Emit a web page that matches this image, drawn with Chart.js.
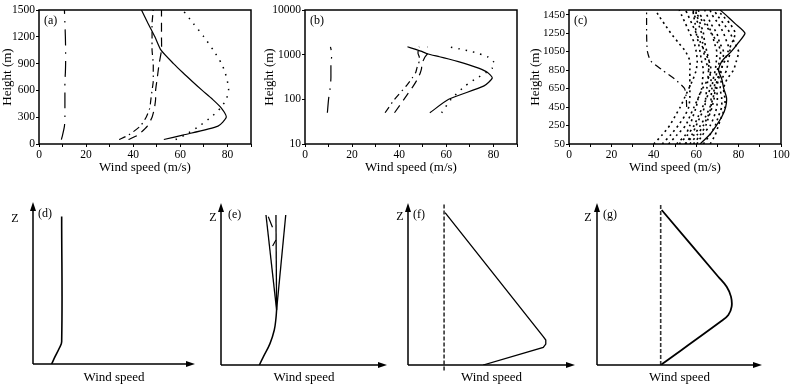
<!DOCTYPE html>
<html>
<head>
<meta charset="utf-8">
<script src="https://cdn.jsdelivr.net/npm/chart.js@4.4.1/dist/chart.umd.min.js"></script>
<style>
  body { margin: 0; background: #fff; width: 795px; height: 392px; position: relative; overflow: hidden; }
  canvas { position: absolute; }
</style>
</head>
<body>
<canvas id="pa" width="256" height="175" style="left:0;top:0"></canvas>
<canvas id="pb" width="259" height="175" style="left:262px;top:0"></canvas>
<canvas id="pc" width="267" height="175" style="left:528px;top:0"></canvas>
<canvas id="pd" width="200" height="200" style="left:0;top:190px"></canvas>
<canvas id="pe" width="195" height="200" style="left:200px;top:190px"></canvas>
<canvas id="pf" width="190" height="200" style="left:393px;top:190px"></canvas>
<canvas id="pg" width="215" height="200" style="left:580px;top:190px"></canvas>
<script>
// ---- (a) / (b): observed profiles, wind speed (m/s) at each height (m) ----
const heightsAB  = [50, 100, 200, 300, 400, 500, 600, 700, 800, 900, 1050, 1200, 1350, 1500];
const solidAB    = [53, 61, 76, 79.5, 77.5, 73.7, 69.3, 65.1, 61, 57.1, 51.8, 49.2, 46.3, 43.5];
const dottedAB   = [58, 62, 68, 73, 77, 79.5, 80.5, 80, 79, 77.5, 74, 70, 65.5, 61];
const dashedAB   = [38, 42, 46, 48, 49, 49.5, 49.5, 50, 50.5, 51, 52, 52, 52, 52];
const dashDotAB  = [34, 38, 43, 45.5, 47, 47.5, 48, 48.5, 48.5, 48.5, 48, 48, 48, 48.5];
const dash2DotAB = [9.5, 10, 10.8, 11, 11, 11, 11, 11, 11.2, 11.3, 11.3, 11.2, 11, 10.8];

// ---- (c): individual profiles ----
const heightsC  = [50, 150, 250, 350, 450, 550, 650, 750, 850, 950, 1050, 1150, 1250, 1350, 1450, 1500];
const solidC    = [61.8, 66.3, 69.5, 72.2, 73.9, 74.3, 73, 72.1, 70.5, 72.2, 76.5, 80, 83, 78.5, 73.8, 71.3];
const dashDotC  = [null, null, null, null, 55.5, 55.3, 54.5, 50, 44, 38.5, 37, 36.7, 36.6, 36.6, 36.6, 36.6];
const dottedC = [
  [44, 48, 51.5, 54.5, 56.5, 57, 57, 57, 57, 57, 55, 51.5, 48, 45, 42, 41],
  [40, 44, 47.5, 50, 52.5, 54.5, 56.5, 58.5, 60, 60.5, 60, 59, 57, 55, 53, 52],
  [50.8, 55, 57, 58.5, 60, 61, 62.6, 63, 63.4, 62.5, 61.8, 61, 60, 59.5, 58.7, 58.5],
  [54.7, 58, 60, 62, 64, 64.5, 65, 65.5, 65.8, 66, 65, 64, 63.4, 62, 60, 60],
  [57, 60.5, 63.4, 65.5, 67, 67, 67.4, 68, 69, 69.5, 69.7, 68.5, 67.4, 65, 61.8, 61],
  [60.3, 63, 66.6, 68.5, 69.7, 70, 69.7, 70.5, 72, 72.5, 72.9, 71, 69.7, 67, 65, 64],
  [63.4, 66.5, 69, 70.5, 72, 72, 71.3, 72, 74.4, 75, 76, 74.5, 72.9, 70.5, 67.4, 66.5],
  [66.6, 69, 70.5, 72, 73.6, 73.5, 72.9, 74.5, 77.6, 79, 80, 78, 76, 73, 69.7, 68.5],
  [58.7, 62, 64.5, 66, 67.5, 68.5, 69, 70, 71.5, 73.5, 75, 77, 78.4, 76, 72, 70],
  [47, 51, 55, 57, 59, 61, 63, 65.5, 67, 66, 64, 62, 60, 58, 56, 55],
  [52, 56, 59, 61, 63, 65, 66.5, 67, 66, 64.5, 63.5, 63, 62.5, 61, 59, 58.5],
  [55, 59, 62, 64.5, 66.5, 68, 68.5, 69, 70, 71, 71.5, 70, 67, 64, 60.5, 60]
];

// axis ticks
const xTicksAB = [0, 10, 20, 30, 40, 50, 60, 70, 80, 90];
const xTicksC  = [0, 10, 20, 30, 40, 50, 60, 70, 80, 90, 100];
const yTicksA  = [0, 300, 600, 900, 1200, 1500];
const yTicksB  = [10, 100, 1000, 10000];
const yTicksC  = [50, 250, 450, 650, 850, 1050, 1250, 1450];

// ---- (d)-(g): schematic profiles (arbitrary units 0-100) ----
const dX = [11.5, 13.6, 16.2, 17.7, 17.7];
const dZ = [0, 4.5, 9.7, 13.8, 91];
const eLowX = [23.1, 25.5, 29.5, 32.1, 33.1, 33.5];
const eLowZ = [0, 5, 13.2, 21.6, 28.8, 34];
const eBranchX = [[33.5, 27.1], [33.5, 33.1], [33.5, 39]];
const eBranchZ = [34, 92.6];
const eBrokenX = [31.1, 33.1, null, 31, 28.5];
const eBrokenZ = [73.5, 77.2, null, 85, 91.5];
const fX = [22.2, 81, 82.5, 82.5, 81, 45];
const fZ = [94, 17.5, 15.4, 12.9, 10.9, 0];
const fRefX = [21.6, 21.6];
const fRefZ = [99, -4.5];
const gX = [39.2, 73.5, 78.6, 81.2, 81.6, 79.6, 75.6, 38.6];
const gZ = [95.7, 54.5, 48.3, 42.2, 36, 30.9, 27.3, 0];
const gRefX = [38.6, 38.6];
const gRefZ = [0, 100];

Chart.defaults.font.family = '"Liberation Serif", "DejaVu Serif", serif';
Chart.defaults.color = '#000';

const pts = (xs, ys) => xs.map((x, i) => ({ x, y: ys[i] }));
const line = (xs, ys, dash, w, extra) => Object.assign({
  data: pts(xs, ys), showLine: true, borderColor: '#000', borderWidth: w,
  borderDash: dash, pointRadius: 0, tension: 0.2, fill: false
}, extra || {});

// frame, arrows and panel labels
const panel = {
  id: 'panel',
  afterDraw(chart, args, o) {
    const { ctx, chartArea: a } = chart;
    ctx.save();
    ctx.strokeStyle = '#000';
    ctx.fillStyle = '#000';
    ctx.setLineDash([]);
    if (o.box) {
      ctx.lineWidth = 1.5;
      ctx.strokeRect(a.left, a.top, a.right - a.left, a.bottom - a.top);
    }
    if (o.arrows) {
      ctx.lineWidth = 1.5;
      ctx.beginPath();
      ctx.moveTo(a.left, a.bottom); ctx.lineTo(a.left, a.top + 4);
      ctx.moveTo(a.left, a.bottom); ctx.lineTo(a.right - 4, a.bottom);
      ctx.stroke();
      ctx.beginPath();
      ctx.moveTo(a.left, a.top); ctx.lineTo(a.left - 3, a.top + 9); ctx.lineTo(a.left + 3, a.top + 9);
      ctx.closePath(); ctx.fill();
      ctx.beginPath();
      ctx.moveTo(a.right, a.bottom); ctx.lineTo(a.right - 9, a.bottom - 3); ctx.lineTo(a.right - 9, a.bottom + 3);
      ctx.closePath(); ctx.fill();
    }
    ctx.font = '12px "Liberation Serif"';
    ctx.textBaseline = 'middle';
    ctx.textAlign = 'left';
    ctx.fillText(o.tag, a.left + o.tagDx, a.top + o.tagDy);
    if (o.z) {
      ctx.textAlign = 'center';
      ctx.fillText('Z', a.left + o.z[0], a.top + o.z[1]);
    }
    ctx.restore();
  }
};

function profileChart(id, datasets, c) {
  return new Chart(document.getElementById(id), {
    type: 'scatter',
    data: { datasets },
    options: {
      responsive: false, animation: false, events: [],
      layout: { padding: c.pad },
      plugins: {
        legend: { display: false }, tooltip: { enabled: false },
        panel: { box: true, tag: c.tag, tagDx: 5, tagDy: 11 }
      },
      scales: {
        x: {
          type: 'linear', min: 0, max: c.xMax,
          afterBuildTicks: s => { s.ticks = c.xTicks.map(value => ({ value })); },
          afterFit: s => { s.height = 31; },
          ticks: { autoSkip: false, maxRotation: 0, padding: 1, font: { size: 11.5 },
                   callback: v => (v % 20 === 0 ? v : '') },
          grid: { drawOnChartArea: false, tickLength: 3, color: '#000' },
          border: { display: false },
          title: { display: true, text: 'Wind speed (m/s)', font: { size: 13 }, padding: { top: 0, bottom: 0 } }
        },
        y: {
          type: c.yType, min: c.yMin, max: c.yMax,
          afterBuildTicks: s => { s.ticks = c.yTicks.map(value => ({ value })); },
          afterFit: s => { s.width = c.yW; },
          ticks: { autoSkip: false, padding: 1, font: { size: c.yFont }, callback: v => String(v) },
          grid: { drawOnChartArea: false, tickLength: 3, color: '#000' },
          border: { display: false },
          title: { display: true, text: 'Height (m)', font: { size: 13 }, padding: { top: 0, bottom: 0 } }
        }
      }
    },
    plugins: [panel]
  });
}

function abSets() {
  return [
    line(dash2DotAB, heightsAB, [16, 7, 1.5, 7], 1.2),
    line(dashDotAB, heightsAB, [7, 4, 1.5, 4], 1.2),
    line(dashedAB, heightsAB, [9, 6], 1.2),
    line(dottedAB, heightsAB, [1.5, 6], 1.5),
    line(solidAB, heightsAB, [], 1.2)
  ];
}

profileChart('pa', abSets(), {
  tag: '(a)', pad: { top: 10, right: 5, left: 0, bottom: 0 }, xMax: 90, xTicks: xTicksAB,
  yType: 'linear', yMin: 0, yMax: 1500, yTicks: yTicksA, yW: 39, yFont: 11.5
});
profileChart('pb', abSets(), {
  tag: '(b)', pad: { top: 10, right: 4, left: 0, bottom: 0 }, xMax: 90, xTicks: xTicksAB,
  yType: 'logarithmic', yMin: 10, yMax: 10000, yTicks: yTicksB, yW: 43, yFont: 11.5
});
profileChart('pc', [
  ...dottedC.map(xs => line(xs, heightsC, [2, 3.5], 1.6)),
  line(dashDotC, heightsC, [7, 4, 1.5, 4], 1.2),
  line(solidC, heightsC, [], 1.3)
], {
  tag: '(c)', pad: { top: 10, right: 14, left: 0, bottom: 0 }, xMax: 100, xTicks: xTicksC,
  yType: 'linear', yMin: 50, yMax: 1500, yTicks: yTicksC, yW: 41, yFont: 11
});

function sketchChart(id, datasets, c) {
  return new Chart(document.getElementById(id), {
    type: 'scatter',
    data: { datasets },
    options: {
      responsive: false, animation: false, events: [],
      layout: { padding: c.pad },
      plugins: {
        legend: { display: false }, tooltip: { enabled: false },
        panel: { arrows: true, tag: c.tag, tagDx: c.tagDx, tagDy: 12, z: c.z }
      },
      scales: {
        x: {
          type: 'linear', min: 0, max: 100,
          afterFit: s => { s.height = c.xH; },
          ticks: { display: false }, grid: { display: false }, border: { display: false },
          title: { display: true, text: 'Wind speed', font: { size: 13 }, padding: { top: 0, bottom: 5 } }
        },
        y: { type: 'linear', min: 0, max: 100, display: false }
      }
    },
    plugins: [panel]
  });
}

sketchChart('pd', [
  line(dX, dZ, [], 1.6, { tension: 0.4 })
], { tag: '(d)', tagDx: 5, z: [-18, 17], pad: { left: 33, right: 5, top: 12, bottom: 0 }, xH: 26 });

sketchChart('pe', [
  line(eLowX, eLowZ, [], 1.5, { tension: 0.4 }),
  ...eBranchX.map(xs => line(xs, eBranchZ, [], 1.3, { tension: 0 })),
  line(eBrokenX, eBrokenZ, [], 1.2, { tension: 0 })
], { tag: '(e)', tagDx: 7, z: [-8, 15], pad: { left: 21, right: 8, top: 13, bottom: 0 }, xH: 25 });

sketchChart('pf', [
  line(fRefX, fRefZ, [4, 2], 1.6, { tension: 0, borderColor: '#333', clip: false }),
  line(fX, fZ, [], 1.3, { tension: 0 })
], { tag: '(f)', tagDx: 5, z: [-8, 14], pad: { left: 15, right: 8, top: 13, bottom: 0 }, xH: 25 });

sketchChart('pg', [
  line(gRefX, gRefZ, [4, 2], 1.6, { tension: 0, borderColor: '#333' }),
  line(gX, gZ, [], 1.8, { tension: 0.35 })
], { tag: '(g)', tagDx: 6, z: [-9, 15], pad: { left: 17, right: 33, top: 13, bottom: 0 }, xH: 25 });
</script>
</body>
</html>
